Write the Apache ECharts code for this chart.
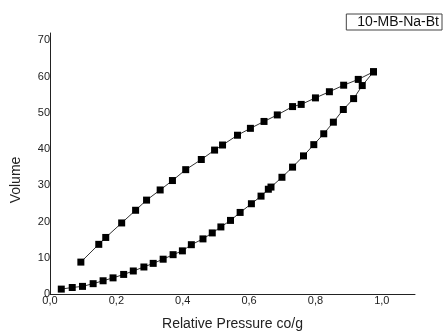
<!DOCTYPE html>
<html>
<head>
<meta charset="utf-8">
<script src="https://cdn.jsdelivr.net/npm/echarts@6/dist/echarts.min.js"></script>
<style>
  html, body { margin: 0; padding: 0; background: #fff; }
  #chart { width: 443px; height: 336px; }
</style>
</head>
<body>
<div id="chart"></div>
<script>
const sampleName = "10-MB-Na-Bt";

// adsorption branch
const adsP = [0.034, 0.067, 0.098, 0.130, 0.160, 0.190, 0.222, 0.251, 0.283, 0.311, 0.341, 0.371, 0.399, 0.426, 0.461, 0.489, 0.515, 0.544, 0.573, 0.607, 0.636, 0.658, 0.666, 0.699, 0.731, 0.764, 0.795, 0.825, 0.854, 0.884, 0.915, 0.941, 0.975];
const adsV = [1.35, 1.8, 2.1, 2.85, 3.65, 4.45, 5.4, 6.35, 7.45, 8.45, 9.6, 10.85, 11.9, 13.6, 15.2, 16.85, 18.5, 20.3, 22.5, 24.9, 27.0, 28.9, 29.5, 32.2, 35.0, 38.1, 41.2, 44.2, 47.4, 50.9, 53.9, 57.5, 61.3];

// desorption branch
const desP = [0.975, 0.929, 0.885, 0.842, 0.800, 0.757, 0.731, 0.685, 0.645, 0.604, 0.565, 0.520, 0.496, 0.456, 0.409, 0.369, 0.332, 0.291, 0.258, 0.216, 0.168, 0.147, 0.093];
const desV = [61.3, 59.2, 57.6, 55.8, 54.1, 52.3, 51.7, 49.4, 47.6, 45.7, 43.8, 41.1, 39.7, 37.1, 34.3, 31.3, 28.7, 25.9, 23.1, 19.6, 15.6, 13.7, 8.8];

const zip = (xs, ys) => xs.map((x, i) => [x, ys[i]]);

const chart = echarts.init(document.getElementById("chart"));

const lineSeries = (name, data) => ({
  name: name,
  type: "line",
  data: data,
  symbol: "rect",
  symbolSize: 7,
  itemStyle: { color: "#000" },
  lineStyle: { color: "#333", width: 1 },
  animation: false,
});

chart.setOption({
  animation: false,
  grid: { left: 50, right: 28, top: 33, bottom: 37 },
  legend: {
    data: [{ name: sampleName, icon: "none" }],
    right: 1,
    top: 14,
    itemWidth: 0,
    itemHeight: 0,
    padding: [1, 3, 1, 6],
    borderWidth: 1,
    borderColor: "#444",
    borderRadius: 0,
    selectedMode: false,
    textStyle: { fontFamily: "Liberation Sans", fontSize: 14, color: "#111" },
  },
  xAxis: {
    type: "value",
    min: 0,
    max: 1.1,
    interval: 0.2,
    name: "Relative Pressure co/g",
    nameLocation: "middle",
    nameGap: 23,
    nameTextStyle: { fontFamily: "Liberation Sans", fontSize: 14, color: "#222" },
    axisLine: { lineStyle: { color: "#222", width: 1 } },
    axisTick: { show: false },
    splitLine: { show: false },
    axisLabel: {
      margin: 1,
      fontFamily: "Liberation Sans",
      fontSize: 11,
      color: "#222",
      formatter: (v) => {
        const r = Math.round(v * 10);
        return r % 2 === 0 ? (r / 10).toFixed(1).replace(".", ",") : "";
      },
    },
  },
  yAxis: {
    type: "value",
    min: 0,
    max: 72,
    interval: 10,
    name: "Volume",
    nameLocation: "middle",
    nameGap: 27,
    nameTextStyle: { fontFamily: "Liberation Sans", fontSize: 14, color: "#222", padding: [0, 33, 0, 0] },
    axisLine: { show: true, lineStyle: { color: "#222", width: 1 } },
    axisTick: { show: false },
    splitLine: { show: false },
    axisLabel: {
      margin: 0,
      fontFamily: "Liberation Sans",
      fontSize: 11,
      color: "#222",
      formatter: (v) => (v % 10 === 0 ? String(v) : ""),
    },
  },
  series: [
    lineSeries(sampleName, zip(adsP, adsV)),
    lineSeries("desorption", zip(desP, desV)),
  ],
});
</script>
</body>
</html>
